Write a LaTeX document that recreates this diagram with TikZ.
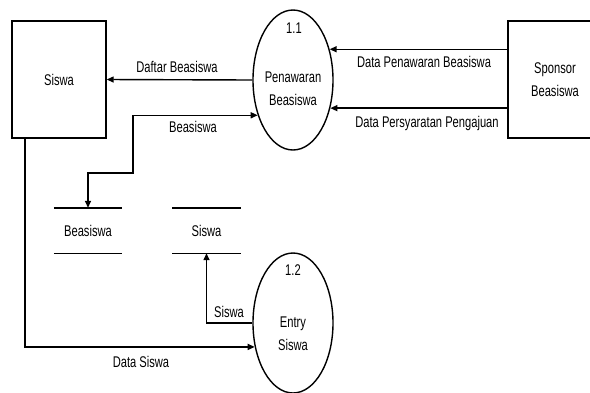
\documentclass[tikz,border=0pt]{standalone}
\usepackage{fontspec}
\setmainfont{Liberation Sans}[FakeStretch=0.72]
\usetikzlibrary{shapes.geometric,arrows.meta}
\begin{document}
\begin{tikzpicture}[x=1pt,y=-1pt,
  every node/.style={font=\fontsize{15.5}{23}\selectfont, inner sep=0pt},
  entity/.style={draw, line width=1.4pt, minimum width=94pt, minimum height=117pt, align=center},
  proc/.style={draw, ellipse, line width=1.4pt, minimum width=80pt, minimum height=140pt},
  store/.style={minimum width=68pt, minimum height=45pt},
  flow/.style={line width=1.4pt, -{Triangle[length=7pt,width=6pt]}},
  bflow/.style={line width=1.4pt, {Triangle[length=7pt,width=6pt]}-{Triangle[length=7pt,width=6pt]}},
  lbl/.style={}]
\useasboundingbox (0,0) rectangle (590,392);
\fill[white] (0,0) rectangle (590,392);
% entities
\node[entity] (siswa) at (59,79.5) {Siswa};
\node[entity] (sponsor) at (555,79.5) {Sponsor\\Beasiswa};
% processes
\node[proc] (p11) at (293,80) {};
\node (p11n) at (294,28) {1.1};
\node[align=center] (p11t) at (293,88.5) {Penawaran\\Beasiswa};
\node[proc] (p12) at (293,323) {};
\node (p12n) at (293,270) {1.2};
\node[align=center] (p12t) at (293,333.5) {Entry\\Siswa};
% data stores
\node[store] (ds1) at (88,230.5) {Beasiswa};
\node[store] (ds2) at (206.5,230.5) {Siswa};
\draw[line width=1.4pt] (ds1.north west) -- (ds1.north east) (ds1.south west) -- (ds1.south east);
\draw[line width=1.4pt] (ds2.north west) -- (ds2.north east) (ds2.south west) -- (ds2.south east);
% flows
\draw[flow] (p11.west) -- (siswa.east);
\node[lbl] (l1) at (177,67) {Daftar Beasiswa};
\draw[flow] (sponsor.west |- p11.40.7) -- (p11.40.7);
\node[lbl] (l2) at (424,62) {Data Penawaran Beasiswa};
\draw[flow] (sponsor.west |- p11.-37.3) -- (p11.-37.3);
\node[lbl] (l3) at (427,123) {Data Persyaratan Pengajuan};
\coordinate (b1) at (133,173);
\draw[bflow] (ds1.north) |- (b1) |- (p11.225.3);
\node[lbl] (l4) at (193,127) {Beasiswa};
\draw[flow] (p12.west) -| (ds2.south);
\node[lbl] (l5) at (229,312) {Siswa};
\coordinate (s0) at (25,138);
\draw[flow] (s0) |- (p12.212.5);
\node[lbl] (l6) at (141,362) {Data Siswa};
\end{tikzpicture}
\end{document}
